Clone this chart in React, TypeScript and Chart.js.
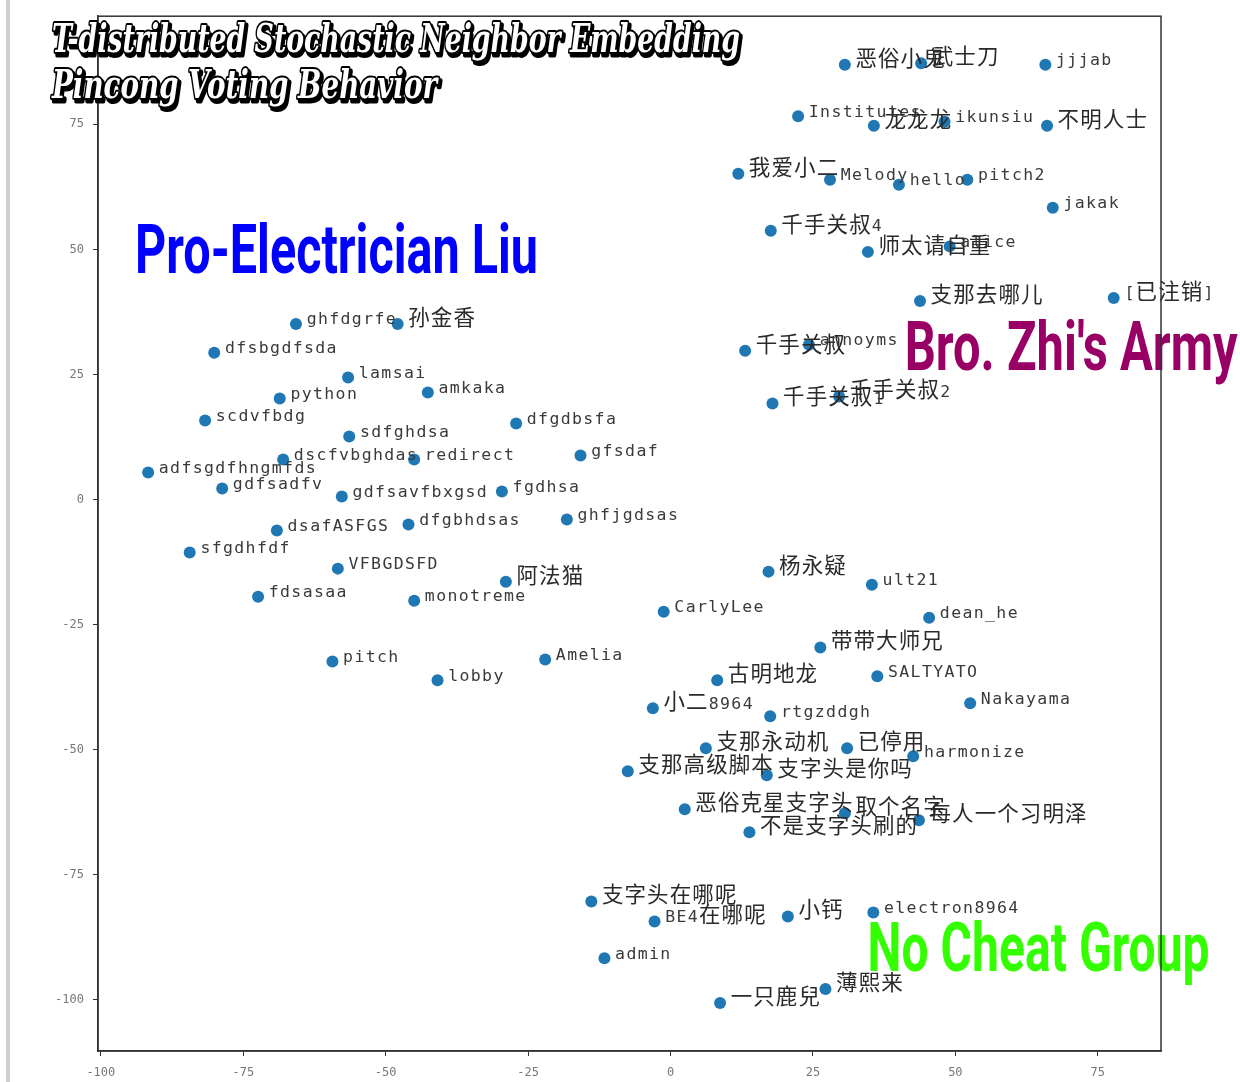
import React, { useEffect, useRef } from "react";
import { Chart, registerables } from "chart.js";

Chart.register(...registerables);

// ---------- data ----------
const names: string[] = [
  "恶俗小鬼", "武士刀", "jjjab", "Institutes", "龙龙龙", "ikunsiu", "不明人士",
  "我爱小二", "Melody", "hello", "pitch2", "jakak", "千手关叔4", "师太请自重", "alice",
  "支那去哪儿", "[已注销]", "千手关叔", "annoyms", "千手关叔2", "千手关叔1",
  "ghfdgrfe", "孙金香", "dfsbgdfsda", "lamsai", "amkaka", "python", "scdvfbdg",
  "dfgdbsfa", "sdfghdsa", "gfsdaf", "dscfvbghdas", "redirect", "adfsgdfhngmfds",
  "gdfsadfv", "gdfsavfbxgsd", "fgdhsa", "dsafASFGS", "dfgbhdsas", "ghfjgdsas",
  "sfgdhfdf", "VFBGDSFD", "阿法猫", "fdsasaa", "monotreme", "CarlyLee", "杨永疑",
  "ult21", "dean_he", "带带大师兄", "pitch", "Amelia", "lobby", "古明地龙", "SALTYATO",
  "小二8964", "rtgzddgh", "Nakayama", "支那永动机", "已停用", "harmonize", "支那高级脚本",
  "支字头是你吗", "恶俗克星支字头", "取个名字", "每人一个习明泽", "不是支字头刷的",
  "支字头在哪呢", "BE4在哪呢", "小钙", "electron8964", "admin", "薄熙来", "一只鹿兒",
];

const xValues: number[] = [
  30.6, 44.0, 65.8, 22.4, 35.7, 48.1, 66.1,
  11.9, 28.0, 40.1, 52.1, 67.1, 17.6, 34.65, 49.0,
  43.8, 77.8, 13.1, 24.3, 29.6, 17.9,
  -65.75, -47.9, -80.1, -56.6, -42.6, -68.6, -81.7,
  -27.1, -56.4, -15.8, -68.0, -45.0, -91.7,
  -78.7, -57.7, -29.6, -69.1, -46.0, -18.2,
  -84.4, -58.4, -28.9, -72.4, -45.0, -1.2, 17.2,
  35.35, 45.4, 26.3, -59.35, -22.0, -40.9, 8.2, 36.3,
  -3.1, 17.5, 52.6, 6.2, 31.0, 42.6, -7.5,
  16.9, 2.5, 30.6, 43.6, 13.85,
  -13.9, -2.8, 20.6, 35.6, -11.6, 27.2, 8.7,
];

const yValues: number[] = [
  86.9, 87.2, 86.9, 76.6, 74.7, 75.5, 74.7,
  65.1, 63.9, 62.9, 63.9, 58.3, 53.7, 49.5, 50.6,
  39.7, 40.3, 29.75, 30.95, 20.6, 19.2,
  35.1, 35.1, 29.35, 24.4, 21.4, 20.2, 15.8,
  15.2, 12.6, 8.8, 8.0, 8.0, 5.4,
  2.2, 0.6, 1.6, -6.2, -5.0, -4.0,
  -10.6, -13.8, -16.4, -19.4, -20.2, -22.4, -14.4,
  -17.0, -23.6, -29.55, -32.35, -31.95, -36.1, -36.1, -35.3,
  -41.7, -43.3, -40.7, -49.7, -49.7, -51.3, -54.3,
  -55.1, -61.9, -62.7, -64.1, -66.5,
  -80.3, -84.3, -83.3, -82.5, -91.65, -97.8, -100.6,
];

const xTicks: number[] = [-100, -75, -50, -25, 0, 25, 50, 75];
const yTicks: number[] = [-100, -75, -50, -25, 0, 25, 50, 75];

const titleLines: string[] = [
  "T-distributed Stochastic Neighbor Embedding",
  "Pincong Voting Behavior",
];

const groupNames: string[] = ["Pro-Electrician Liu", "Bro. Zhi's Army", "No Cheat Group"];

// ---------- annotation / style config ----------
const groupAnchorX = [-94.0, 41.1, 34.6];
const groupAnchorY = [45.3, 25.8, -94.2];
const groupWidths = [403, 333, 342];
const groupColors = ["#0000ff", "#990066", "#33ff00"];

const HALF = 11.3;
const FULL = 22.6;
const latinFont = '16.5px "DejaVu Sans Mono", "Liberation Mono", monospace';
const cjkFont = '21.5px "Noto Sans CJK SC", "Noto Sans CJK JP", sans-serif';

const isWide = (ch: string) => (ch.codePointAt(0) || 0) >= 0x2e80;

const labelPlugin = {
  id: "pointLabels",
  afterDatasetsDraw(chart: any) {
    const ctx = chart.ctx as CanvasRenderingContext2D;
    const meta = chart.getDatasetMeta(0);
    ctx.save();
    ctx.textAlign = "center";
    ctx.textBaseline = "alphabetic";
    meta.data.forEach((el: any, i: number) => {
      let cx = el.x + 10;
      for (const ch of Array.from(names[i])) {
        const wide = isWide(ch);
        const w = wide ? FULL : HALF;
        ctx.font = wide ? cjkFont : latinFont;
        ctx.fillStyle = wide ? "#2a2a2a" : "#3a3a3a";
        ctx.fillText(ch, cx + w / 2, el.y + (wide ? 1 : 0.5));
        cx += w;
      }
    });
    ctx.restore();
  },
};

const decorPlugin = {
  id: "decor",
  afterDraw(chart: any) {
    const ctx = chart.ctx as CanvasRenderingContext2D;
    const xs = chart.scales.x;
    const ys = chart.scales.y;
    const area = chart.chartArea;

    // group annotations
    groupNames.forEach((g, i) => {
      const px = xs.getPixelForValue(groupAnchorX[i]);
      const py = ys.getPixelForValue(groupAnchorY[i]);
      ctx.save();
      ctx.font = 'bold 69px "Liberation Sans Narrow", "Roboto", "Liberation Sans", sans-serif';
      const m = ctx.measureText(g).width;
      ctx.translate(px, py);
      ctx.scale(groupWidths[i] / m, 1);
      ctx.fillStyle = groupColors[i];
      ctx.textBaseline = "alphabetic";
      ctx.textAlign = "left";
      ctx.fillText(g, 0, 0);
      ctx.restore();
    });

    // frame
    ctx.save();
    ctx.strokeStyle = "#333";
    ctx.lineWidth = 1.5;
    ctx.strokeRect(area.left, area.top, area.right - area.left, area.bottom - area.top);
    ctx.restore();

    // title
    const titleWidths = [688, 385];
    const baselines = [52, 98];
    titleLines.forEach((t, i) => {
      ctx.save();
      ctx.font = 'italic bold 39px "DejaVu Serif", "Liberation Serif", serif';
      const m = ctx.measureText(t).width;
      ctx.translate(52, baselines[i]);
      ctx.scale(titleWidths[i] / m, 1);
      ctx.lineJoin = "round";
      // shadow
      ctx.fillStyle = "#000";
      ctx.strokeStyle = "#000";
      ctx.lineWidth = 5;
      ctx.strokeText(t, 3, 3);
      ctx.fillText(t, 3, 3);
      // outline
      ctx.lineWidth = 4;
      ctx.strokeText(t, 0, 0);
      ctx.fillStyle = "#fff";
      ctx.fillText(t, 0, 0);
      ctx.restore();
    });
  },
};

export default function App() {
  const ref = useRef<HTMLCanvasElement | null>(null);

  useEffect(() => {
    if (!ref.current) return;
    const points = xValues.map((x, i) => ({ x, y: yValues[i] }));
    const chart = new Chart(ref.current, {
      type: "scatter",
      data: {
        datasets: [
          {
            data: points,
            backgroundColor: "#1f77b4",
            borderWidth: 0,
            pointRadius: 6,
            pointHoverRadius: 6,
          },
        ],
      },
      options: {
        animation: false,
        responsive: false,
        devicePixelRatio: 1,
        events: [],
        layout: { padding: { top: 15, right: 79, left: 0, bottom: 0 } },
        plugins: {
          legend: { display: false },
          tooltip: { enabled: false },
          title: { display: false },
        },
        scales: {
          x: {
            type: "linear",
            min: -100.5,
            max: 86.1,
            afterBuildTicks: (s: any) => {
              s.ticks = xTicks.map((v) => ({ value: v }));
            },
            afterFit: (s: any) => {
              s.height = 31;
            },
            grid: { drawOnChartArea: false, drawTicks: true, tickLength: 5, color: "#333" },
            border: { display: true, color: "#333", width: 1.5 },
            ticks: {
              color: "#777",
              padding: 10,
              maxRotation: 0,
              autoSkip: false,
              font: { family: '"DejaVu Sans Mono", monospace', size: 12 },
              callback: (v: any) => String(v),
            },
          },
          y: {
            type: "linear",
            min: -110.2,
            max: 96.6,
            afterBuildTicks: (s: any) => {
              s.ticks = yTicks.map((v) => ({ value: v }));
            },
            afterFit: (s: any) => {
              s.width = 98;
            },
            grid: { drawOnChartArea: false, drawTicks: true, tickLength: 5, color: "#333" },
            border: { display: true, color: "#333", width: 1.5 },
            ticks: {
              color: "#777",
              padding: 9,
              autoSkip: false,
              font: { family: '"DejaVu Sans Mono", monospace', size: 12 },
              callback: (v: any) => String(v),
            },
          },
        },
      },
      plugins: [labelPlugin, decorPlugin],
    });
    return () => chart.destroy();
  }, []);

  return (
    <div style={{ position: "absolute", left: 0, top: 0, width: 1240, height: 1082, background: "#fff" }}>
      <div style={{ position: "absolute", left: 6, top: 0, width: 4, height: 1082, background: "#cfcfcf" }} />
      <canvas ref={ref} width={1240} height={1082} style={{ position: "absolute", left: 0, top: 0 }} />
    </div>
  );
}
